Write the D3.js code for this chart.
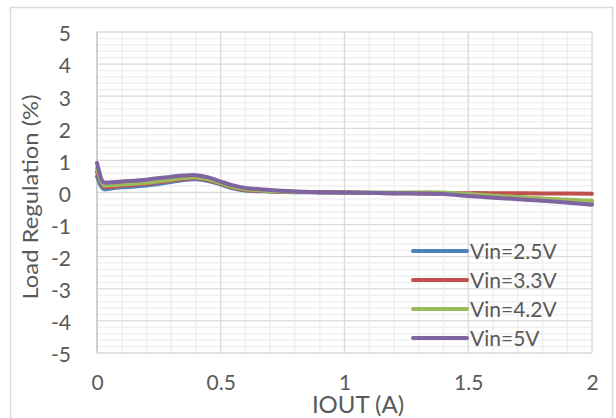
<!DOCTYPE html>
<html>
<head>
<meta charset="utf-8">
<script src="https://cdn.jsdelivr.net/npm/d3@7/dist/d3.min.js"></script>
<style>
  html, body { margin: 0; padding: 0; background: #ffffff; }
  svg { display: block; }
  text { font-family: Lato, "Open Sans", sans-serif; fill: #595959; }
</style>
</head>
<body>
<svg id="chart" width="616" height="418"></svg>
<script>
// Output current (A)
const iout = [0, 0.01, 0.02, 0.03, 0.05, 0.1, 0.2, 0.3, 0.35, 0.4, 0.45, 0.5, 0.55, 0.6, 0.7, 0.8, 0.9, 1.0, 1.2, 1.4, 1.5, 1.6, 1.8, 2.0];

// Load regulation (%) for each input voltage
const vin25 = [0.50, 0.30, 0.15, 0.10, 0.12, 0.16, 0.22, 0.33, 0.39, 0.41, 0.36, 0.25, 0.13, 0.06, 0.03, 0.01, 0.00, 0.00, -0.02, -0.04, -0.08, -0.12, -0.20, -0.30];
const vin33 = [0.65, 0.42, 0.25, 0.17, 0.17, 0.21, 0.27, 0.37, 0.42, 0.44, 0.38, 0.27, 0.15, 0.08, 0.04, 0.02, 0.01, 0.00, -0.02, -0.03, -0.02, -0.02, -0.03, -0.04];
const vin42 = [0.75, 0.50, 0.30, 0.22, 0.22, 0.25, 0.30, 0.40, 0.45, 0.47, 0.41, 0.29, 0.17, 0.10, 0.05, 0.02, 0.01, 0.00, 0.00, 0.00, -0.05, -0.09, -0.19, -0.26];
const vin50 = [0.92, 0.62, 0.38, 0.31, 0.31, 0.34, 0.40, 0.49, 0.53, 0.54, 0.47, 0.34, 0.22, 0.14, 0.08, 0.03, 0.01, 0.00, -0.02, -0.05, -0.11, -0.16, -0.26, -0.38];

const seriesNames = ["Vin=2.5V", "Vin=3.3V", "Vin=4.2V", "Vin=5V"];
const seriesValues = [vin25, vin33, vin42, vin50];
const seriesColors = ["#4F81BD", "#C0504D", "#9BBB59", "#8064A2"];

const xTicks = [0, 0.5, 1, 1.5, 2];
const yTicks = [-5, -4, -3, -2, -1, 0, 1, 2, 3, 4, 5];

const svg = d3.select("#chart");

// chart area frame
svg.append("rect")
  .attr("x", 10.5).attr("y", 7.5)
  .attr("width", 602).attr("height", 430)
  .attr("fill", "#ffffff")
  .attr("stroke", "#d9d9d9").attr("stroke-width", 1.5);

const x = d3.scaleLinear().domain([0, 2]).range([97, 592]);
const y = d3.scaleLinear().domain([-5, 5]).range([353, 32]);

// minor gridlines
const grid = svg.append("g");
grid.selectAll("line.mx")
  .data(d3.range(0, 21).map(i => i / 10).filter(v => Math.abs(v * 2 - Math.round(v * 2)) > 1e-6))
  .join("line")
  .attr("x1", d => x(d)).attr("x2", d => x(d))
  .attr("y1", y(5)).attr("y2", y(-5))
  .attr("stroke", "#f0f0f0").attr("stroke-width", 1.5);
grid.selectAll("line.my")
  .data(d3.range(-25, 26).map(i => i / 5).filter(v => Math.abs(v - Math.round(v)) > 1e-6))
  .join("line")
  .attr("x1", x(0)).attr("x2", x(2))
  .attr("y1", d => y(d)).attr("y2", d => y(d))
  .attr("stroke", "#f0f0f0").attr("stroke-width", 1.5);

// major gridlines
grid.selectAll("line.gx")
  .data(xTicks)
  .join("line")
  .attr("x1", d => x(d)).attr("x2", d => x(d))
  .attr("y1", y(5)).attr("y2", y(-5))
  .attr("stroke", "#d9d9d9").attr("stroke-width", 1.3);
grid.selectAll("line.gy")
  .data(yTicks)
  .join("line")
  .attr("x1", x(0)).attr("x2", x(2))
  .attr("y1", d => y(d)).attr("y2", d => y(d))
  .attr("stroke", "#d9d9d9").attr("stroke-width", 1.3);

// vertical axis line
svg.append("line")
  .attr("x1", x(0)).attr("x2", x(0))
  .attr("y1", y(5)).attr("y2", y(-5))
  .attr("stroke", "#c8c8c8").attr("stroke-width", 1.5);

// axes (labels only)
const yAxis = svg.append("g")
  .attr("transform", `translate(${x(0)},0)`)
  .call(d3.axisLeft(y).tickValues(yTicks).tickSize(0).tickPadding(26).tickFormat(d => String(d)));
const xAxis = svg.append("g")
  .attr("transform", `translate(0,${y(-5)})`)
  .call(d3.axisBottom(x).tickValues(xTicks).tickSize(0).tickPadding(22).tickFormat(d => String(d)));
[yAxis, xAxis].forEach(a => {
  a.select(".domain").remove();
  a.selectAll("text")
    .style("font-family", "Lato, sans-serif")
    .style("font-size", "21px")
    .attr("fill", "#595959");
});
yAxis.selectAll("text").attr("dy", "0.42em");
xAxis.selectAll("text").attr("dy", "0.71em");

// series lines
const line = d3.line()
  .x((d, i) => x(iout[i]))
  .y(d => y(d))
  .curve(d3.curveCatmullRom.alpha(0.5));

svg.append("g")
  .selectAll("path")
  .data(seriesValues)
  .join("path")
  .attr("d", d => line(d))
  .attr("fill", "none")
  .attr("stroke", (d, i) => seriesColors[i])
  .attr("stroke-width", 4)
  .attr("stroke-linejoin", "round")
  .attr("stroke-linecap", "round");

// axis titles
svg.append("text")
  .attr("x", 358).attr("y", 413)
  .attr("text-anchor", "middle")
  .style("font-size", "24px")
  .text("IOUT (A)");

svg.append("text")
  .attr("transform", "translate(38,197) rotate(-90)")
  .attr("text-anchor", "middle")
  .style("font-size", "22px")
  .attr("textLength", 205).attr("lengthAdjust", "spacingAndGlyphs")
  .text("Load Regulation (%)");

// legend
const legend = svg.append("g");
const legendY = [251, 280, 309, 338];
seriesNames.forEach((name, i) => {
  legend.append("line")
    .attr("x1", 413).attr("x2", 467)
    .attr("y1", legendY[i]).attr("y2", legendY[i])
    .attr("stroke", seriesColors[i]).attr("stroke-width", 4)
    .attr("stroke-linecap", "round");
  legend.append("text")
    .attr("x", 470).attr("y", legendY[i] + 7.5)
    .style("font-size", "21px")
    .text(name);
});
</script>
</body>
</html>
